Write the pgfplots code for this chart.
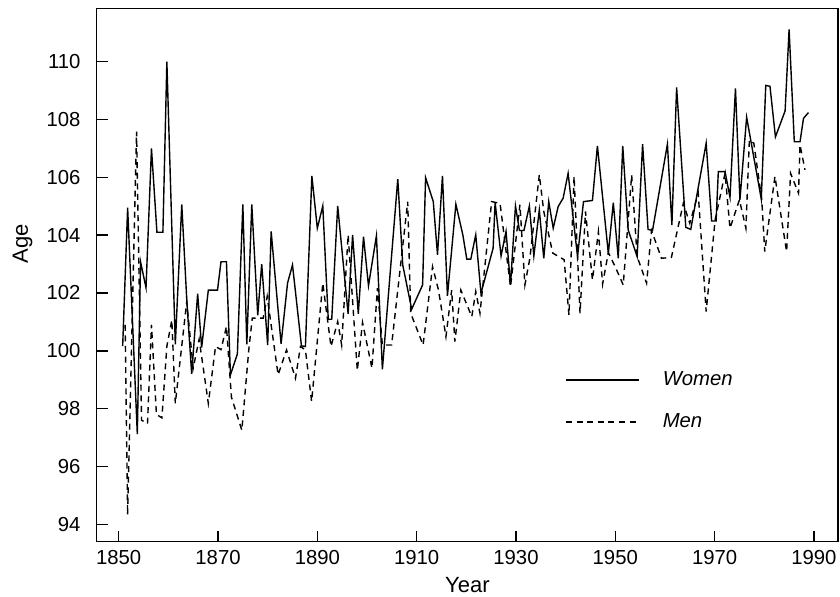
\documentclass[border=0pt]{standalone}
\usepackage{fontspec}
\setmainfont{Liberation Sans}
\usepackage{pgfplots}
\usepackage{pgfplotstable}
\pgfplotsset{compat=1.18}

\pgfplotstableread{
year age
1850.8 100.16
1851.8 104.95
1853.75 97.12
1854.4 103.08
1855.5 102.18
1856.6 107.0
1857.7 104.1
1858.9 104.1
1859.7 110.0
1861.4 100.22
1862.7 105.06
1863.75 101.63
1864.7 99.2
1865.9 101.98
1866.7 100.11
1868.05 102.1
1869.9 102.1
1870.6 103.08
1871.7 103.08
1872.5 99.17
1873.9 99.89
1875.0 105.06
1875.8 100.22
1876.8 105.06
1878.0 101.23
1878.8 103.0
1880.0 100.2
1880.7 104.13
1882.7 100.24
1884.0 102.34
1885.0 102.97
1886.8 100.17
1887.6 100.15
1888.9 106.05
1890.0 104.24
1891.1 105.01
1892.2 101.09
1892.9 101.09
1894.1 105.01
1896.2 101.28
1897.1 104.01
1898.25 101.28
1899.3 103.95
1900.3 102.25
1901.9 103.98
1903.1 99.36
1906.2 105.94
1907.2 102.97
1909.0 101.44
1911.2 102.28
1911.8 105.99
1913.35 105.16
1914.2 103.32
1915.2 106.05
1916.2 101.9
1917.9 105.07
1919.3 104.01
1920.1 103.17
1920.9 103.17
1921.9 104.01
1922.95 101.99
1925.4 103.55
1925.8 105.13
1927.0 103.28
1928.0 104.13
1928.9 102.28
1929.9 105.01
1930.7 104.16
1931.6 104.16
1932.7 105.01
1933.6 103.28
1934.7 104.87
1935.6 103.2
1936.6 105.16
1937.5 104.24
1938.5 104.99
1939.5 105.28
1940.5 106.14
1942.4 103.26
1943.6 105.16
1945.4 105.2
1946.4 107.09
1948.6 103.37
1949.6 105.12
1950.6 103.2
1951.5 107.09
1952.6 104.18
1954.4 103.26
1955.5 107.15
1956.6 104.2
1957.5 104.16
1960.5 107.15
1961.4 104.35
1962.35 109.11
1964.2 104.27
1965.2 104.2
1968.3 107.18
1969.4 104.49
1970.3 104.49
1970.75 106.2
1972.1 106.2
1973.1 105.31
1974.2 109.08
1975.1 105.22
1976.45 108.08
1979.4 105.25
1980.3 109.18
1981.15 109.15
1982.25 107.4
1984.2 108.3
1985.0 111.12
1986.05 107.23
1987.2 107.23
1987.9 108.04
1988.9 108.24
}\women

\pgfplotstableread{
year age
1851.3 100.9
1851.8 94.32
1853.6 107.58
1854.6 97.6
1855.8 97.48
1856.6 100.9
1857.6 97.8
1858.7 97.68
1859.7 100.16
1860.7 101.06
1861.4 98.18
1863.7 101.7
1865.0 99.4
1866.2 100.4
1868.05 98.18
1869.5 100.15
1870.6 100.04
1871.7 100.84
1872.7 98.4
1874.8 97.25
1876.2 100.04
1876.9 101.13
1879.1 101.13
1879.9 101.88
1882.1 99.17
1883.8 100.03
1885.6 99.05
1886.6 100.15
1887.6 100.03
1888.85 98.25
1891.1 102.34
1892.75 100.15
1894.1 101.01
1894.9 100.2
1896.2 104.01
1898.05 99.32
1899.1 100.98
1901.0 99.4
1902.1 102.17
1903.1 100.2
1904.96 100.2
1908.2 105.16
1908.8 101.3
1911.3 100.2
1913.2 102.91
1914.4 102.1
1915.9 100.49
1917.05 102.1
1917.7 100.32
1918.9 102.1
1921.1 101.18
1921.9 102.05
1922.75 101.3
1925.1 105.16
1926.8 105.1
1928.9 102.22
1930.8 105.05
1931.8 102.28
1932.8 103.2
1934.7 106.09
1935.6 104.82
1937.4 103.38
1939.7 103.15
1940.67 101.24
1941.7 106.03
1942.9 101.3
1944.0 104.82
1945.4 102.45
1946.6 104.12
1947.45 102.31
1948.6 103.4
1950.0 102.9
1951.6 102.28
1953.3 106.08
1954.4 103.26
1956.3 102.34
1957.3 104.16
1959.3 103.2
1961.3 103.23
1963.7 105.1
1965.0 104.41
1966.7 105.45
1968.3 101.36
1970.1 104.52
1972.1 106.14
1973.1 104.24
1975.0 105.22
1976.3 104.24
1977.0 107.29
1977.9 107.18
1979.5 105.22
1980.1 103.43
1982.15 106.03
1984.5 103.43
1985.3 106.14
1986.9 105.45
1987.2 107.12
1988.2 106.26
}\men

\begin{document}
\begin{tikzpicture}
\useasboundingbox (-48.35bp,-27.65bp) rectangle (371.65bp,270.85bp);
\begin{axis}[
  at={(0,0)}, anchor=south west,
  scale only axis, width=370.65bp, height=266.7bp,
  xmin=1845.57, xmax=1994.85, ymin=93.397, ymax=111.847,
  xtick={1850,1870,...,1990},
  ytick={94,96,...,110},
  tick align=inside,
  xtick pos=left, ytick pos=left,
  major tick length=5.5bp,
  axis line style={line width=0.75bp},
  every tick/.style={black, line width=0.7bp},
  /pgf/number format/assume math mode=true,
  /pgf/number format/1000 sep={},
  tick label style={font=\fontsize{10.15bp}{12bp}\selectfont},
  xticklabel style={yshift=-0.8bp},
  yticklabel style={xshift=-4.6bp},
  xlabel={Year}, ylabel={Age},
  label style={font=\fontsize{11bp}{13bp}\selectfont},
  xlabel style={at={(axis description cs:0.5,-0.0943)}, anchor=base},
  ylabel style={at={(axis description cs:-0.0928,0.558)}, anchor=base},
  legend style={at={(axis description cs:0.6317,0.320)}, anchor=north west,
    draw=none, fill=none, inner sep=0pt, row sep=12.5bp,
    font=\fontsize{10.15bp}{12bp}\selectfont\itshape,
    nodes={inner xsep=0pt, inner ysep=0pt}},
  legend cell align=left,
  legend image code/.code={\draw[#1] (0bp,0bp) -- (36.5bp,0bp);},
]
\addplot[black, line width=0.7bp] table[x=year,y=age] {\women};
\addlegendentry{\hspace{11.5bp}Women}
\addplot[black, line width=0.7bp, dash pattern=on 3bp off 2.3bp] table[x=year,y=age] {\men};
\addlegendentry{\hspace{11.5bp}Men}
\end{axis}
\end{tikzpicture}
\end{document}
